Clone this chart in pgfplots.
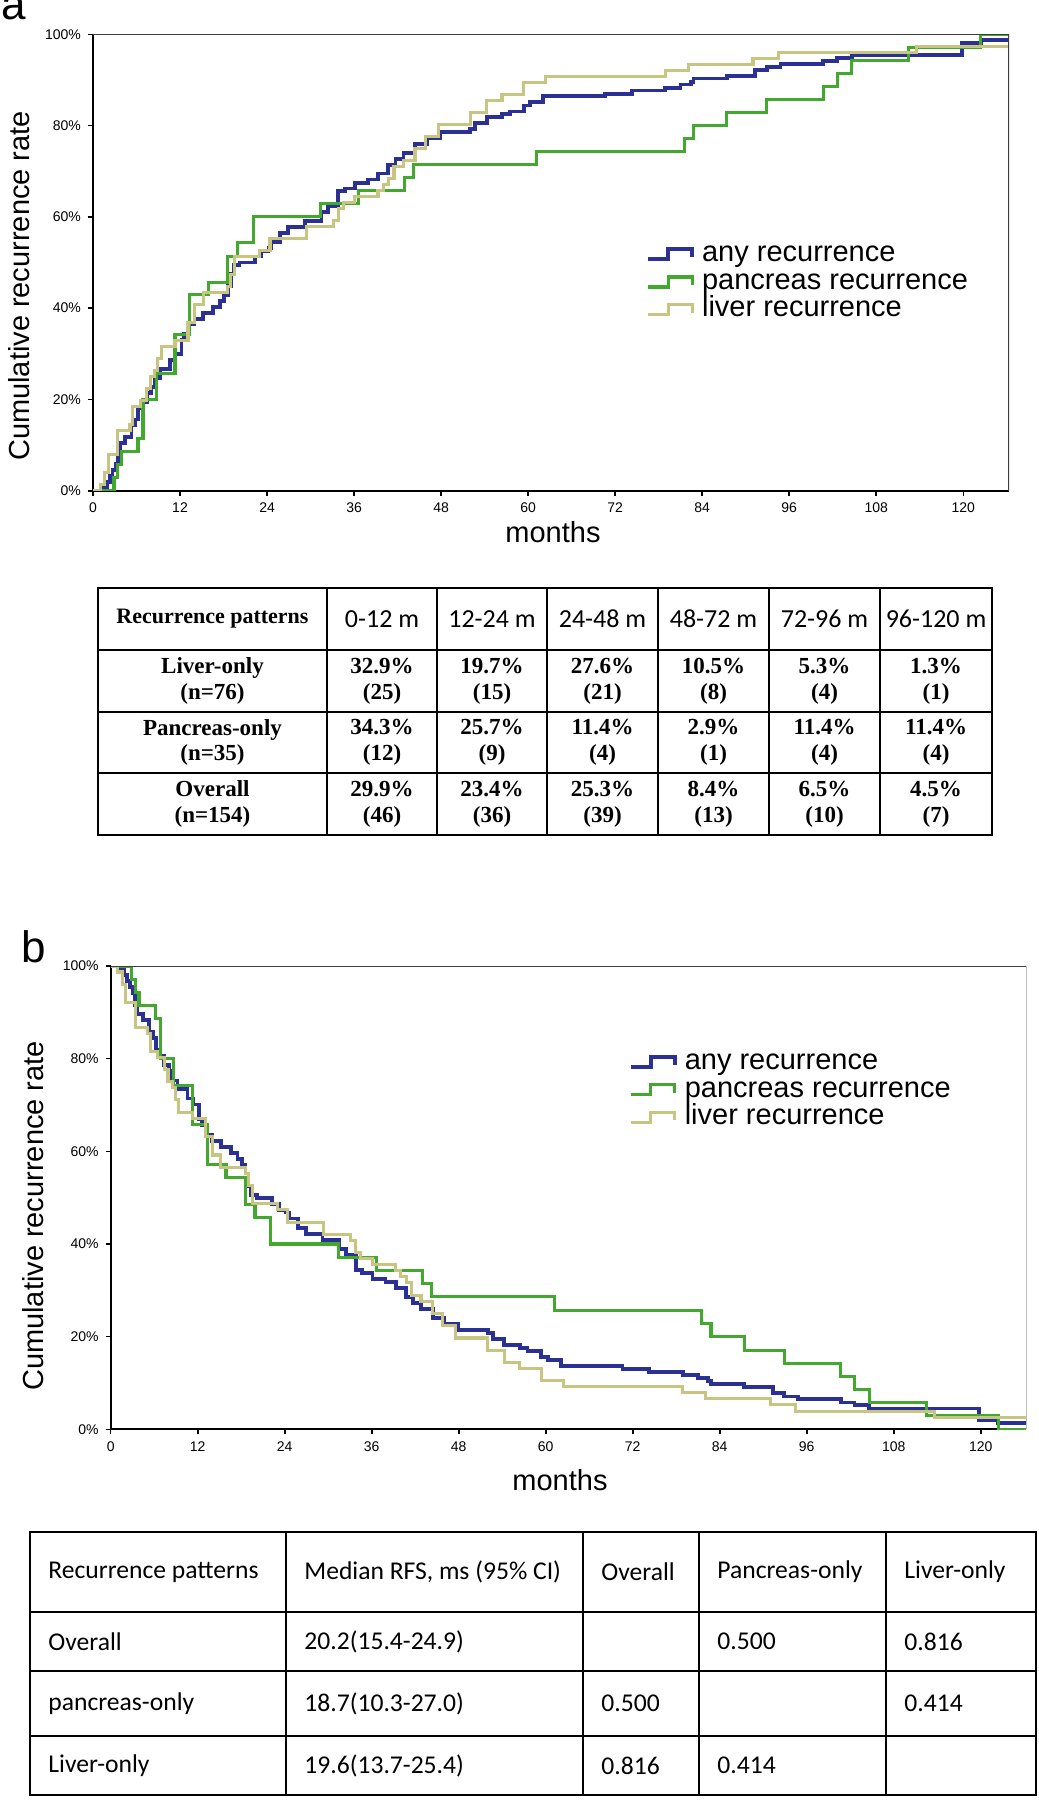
\documentclass[border=0pt]{standalone}
\usepackage{fontspec}
\setmainfont{Liberation Sans}
\newfontfamily\timesf{Liberation Serif}
\newfontfamily\calf{Carlito}
\usepackage{pgfplots}
\pgfplotsset{compat=1.18}
\definecolor{kmblue}{RGB}{42,48,148}
\definecolor{kmgreen}{RGB}{66,168,46}
\definecolor{kmtan}{RGB}{200,196,130}
\pgfplotsset{
  kmaxis/.style={
    scale only axis, anchor=south west,
    xmin=0, xmax=126.3, ymin=0, ymax=100,
    axis x line=bottom, axis y line=left,
    axis line style={-, black, line width=1pt},
    xtick={0,12,...,120}, ytick={0,20,...,100},
    xticklabels={0,12,24,36,48,60,72,84,96,108,120},
    yticklabels={0\%,20\%,40\%,60\%,80\%,100\%},
    tick align=outside, major tick length=2.5pt,
    tick style={black, line width=0.8pt},
    tick label style={font=\fontsize{7}{8}\selectfont},
    legend cell align=left,
    legend image code/.code={\draw[##1, line join=miter] (0pt,-2.5pt) -- (10pt,-2.5pt) -- (10pt,2.5pt) -- (22pt,2.5pt) -- (22pt,-1.5pt);},
    legend style={draw=none, fill=none, inner sep=0pt, outer sep=0pt,
      font=\fontsize{14.5}{14.5}\selectfont, row sep=0pt, column sep=4pt,
      nodes={inner sep=0pt, text height=10.6pt, text depth=3.2pt}},
  },
  blueS/.style={kmblue, line width=1.9pt, const plot},
  greenS/.style={kmgreen, line width=1.55pt, const plot},
  tanS/.style={kmtan, line width=1.55pt, const plot},
}
\begin{document}
\begin{tikzpicture}
\useasboundingbox (0pt,0pt) rectangle (519.5pt,-900pt);
% ---------------- panel a ----------------
\begin{axis}[kmaxis, at={(46.5pt,-245.35pt)}, width=458pt, height=228.2pt,
  legend style={at={(0.604,0.548)}, anchor=north west}]
\addplot[blueS] coordinates {(0,0) (1.4,0.6) (1.9,1.9) (2.3,3.2) (2.7,4.5) (3.1,5.8) (3.4,8.4) (3.7,10.4) (4.4,11.7) (5.3,14.3) (5.8,15.6) (6.2,18.2) (6.8,19.5) (7.4,21.4) (8.0,22.7) (8.5,24.7) (9.2,26.6) (10.6,28.6) (11.3,29.9) (12.2,33.1) (12.6,34.4) (13.1,36.4) (14.0,37.7) (15.2,39.0) (16.6,40.3) (17.5,41.6) (18.1,42.9) (18.6,44.8) (19.0,47.4) (19.4,49.4) (20.2,50.0) (22.3,51.3) (23.2,52.6) (24.2,53.2) (24.6,54.5) (25.8,56.5) (26.9,57.8) (29.2,59.1) (31.5,61.0) (32.4,62.3) (33.8,65.6) (34.7,66.2) (36.1,67.5) (37.9,68.2) (39.3,69.5) (40.7,71.4) (41.7,72.7) (42.8,74.0) (44.4,76.0) (46.0,77.3) (47.9,78.6) (52.0,79.2) (52.7,80.5) (54.3,81.8) (56.4,82.5) (57.5,83.1) (59.4,84.4) (60.3,85.1) (62.1,86.4) (70.6,87.0) (74.3,87.7) (78.9,88.3) (81.0,89.0) (82.4,89.6) (82.8,90.3) (87.4,90.9) (91.3,92.2) (92.9,92.9) (94.8,93.5) (100.7,94.2) (102.6,94.8) (104.6,95.5) (119.8,98.1) (122.4,98.7) (126.3,98.7)};
\addlegendentry{any recurrence}
\addplot[greenS] coordinates {(0,0) (2.9,2.9) (3.4,5.7) (3.9,8.6) (6.2,11.4) (6.9,20.0) (8.7,25.7) (11.3,34.3) (13.3,42.9) (15.9,45.7) (18.6,51.4) (19.9,54.3) (22.1,60.0) (31.4,62.9) (36.6,65.7) (43.0,68.6) (44.2,71.4) (61.2,74.3) (81.5,77.1) (82.8,80.0) (87.4,82.9) (92.9,85.7) (100.7,88.6) (102.6,91.4) (104.6,94.3) (112.5,97.1) (122.4,100) (126.3,100)};
\addlegendentry{pancreas recurrence}
\addplot[tanS] coordinates {(0,0) (1.0,1.3) (1.6,3.9) (2.1,7.9) (3.4,13.2) (5.1,14.5) (5.5,18.4) (6.5,19.7) (7.4,22.4) (7.9,25.0) (8.5,26.3) (8.9,28.9) (9.4,31.6) (11.3,32.9) (13.1,36.8) (14.0,40.8) (15.2,43.4) (18.6,44.7) (19.0,47.4) (19.5,51.3) (23.0,52.6) (24.4,55.3) (29.4,57.9) (33.1,59.2) (33.8,61.8) (34.5,63.2) (36.1,64.5) (39.3,65.8) (40.0,67.1) (40.8,68.4) (41.5,71.1) (42.8,72.4) (44.4,75.0) (45.8,77.6) (47.6,80.3) (52.0,82.9) (54.3,85.5) (56.4,86.8) (59.4,89.5) (62.4,90.8) (78.9,92.1) (82.1,93.4) (91.0,94.7) (94.5,96.1) (113.6,97.4) (126.3,97.4)};
\addlegendentry{liver recurrence}
\draw[black!75, line width=0.8pt] (rel axis cs:0,1) -- (rel axis cs:1,1) -- (rel axis cs:1,0);
\end{axis}
% ---------------- panel b ----------------
\begin{axis}[kmaxis, at={(55.35pt,-714.65pt)}, width=457.85pt, height=231.65pt,
  legend style={at={(0.566,0.822)}, anchor=north west}]
\addplot[blueS] coordinates {(0,100) (1.4,99.4) (1.9,98.1) (2.3,96.8) (2.7,95.5) (3.1,94.2) (3.4,91.6) (3.7,89.6) (4.4,88.3) (5.3,85.7) (5.8,84.4) (6.2,81.8) (6.8,80.5) (7.4,78.6) (8.0,77.3) (8.5,75.3) (9.2,73.4) (10.6,71.4) (11.3,70.1) (12.2,66.9) (12.6,65.6) (13.1,63.6) (14.0,62.3) (15.2,61.0) (16.6,59.7) (17.5,58.4) (18.1,57.1) (18.6,55.2) (19.0,52.6) (19.4,50.6) (20.2,50.0) (22.3,48.7) (23.2,47.4) (24.2,46.8) (24.6,45.5) (25.8,43.5) (26.9,42.2) (29.2,40.9) (31.5,39.0) (32.4,37.7) (33.8,34.4) (34.7,33.8) (36.1,32.5) (37.9,31.8) (39.3,30.5) (40.7,28.6) (41.7,27.3) (42.8,26.0) (44.4,24.0) (46.0,22.7) (47.9,21.4) (52.0,20.8) (52.7,19.5) (54.3,18.2) (56.4,17.5) (57.5,16.9) (59.4,15.6) (60.3,14.9) (62.1,13.6) (70.6,13.0) (74.3,12.3) (78.9,11.7) (81.0,11.0) (82.4,10.4) (82.8,9.7) (87.4,9.1) (91.3,7.8) (92.9,7.1) (94.8,6.5) (100.7,5.8) (102.6,5.2) (104.6,4.5) (119.8,1.9) (122.4,1.3) (126.3,1.3)};
\addlegendentry{any recurrence}
\addplot[greenS] coordinates {(0,100) (2.9,97.1) (3.4,94.3) (3.9,91.4) (6.2,88.6) (6.9,80.0) (8.7,74.3) (11.3,65.7) (13.3,57.1) (15.9,54.3) (18.6,48.6) (19.9,45.7) (22.1,40.0) (31.4,37.1) (36.6,34.3) (43.0,31.4) (44.2,28.6) (61.2,25.7) (81.5,22.9) (82.8,20.0) (87.4,17.1) (92.9,14.3) (100.7,11.4) (102.6,8.6) (104.6,5.7) (112.5,2.9) (122.4,0) (126.3,0)};
\addlegendentry{pancreas recurrence}
\addplot[tanS] coordinates {(0,100) (1.0,98.7) (1.6,96.1) (2.1,92.1) (3.4,86.8) (5.1,85.5) (5.5,81.6) (6.5,80.3) (7.4,77.6) (7.9,75.0) (8.5,73.7) (8.9,71.1) (9.4,68.4) (11.3,67.1) (13.1,63.2) (14.0,59.2) (15.2,56.6) (18.6,55.3) (19.0,52.6) (19.5,48.7) (23.0,47.4) (24.4,44.7) (29.4,42.1) (33.1,40.8) (33.8,38.2) (34.5,36.8) (36.1,35.5) (39.3,34.2) (40.0,32.9) (40.8,31.6) (41.5,28.9) (42.8,27.6) (44.4,25.0) (45.8,22.4) (47.6,19.7) (52.0,17.1) (54.3,14.5) (56.4,13.2) (59.4,10.5) (62.4,9.2) (78.9,7.9) (82.1,6.6) (91.0,5.3) (94.5,3.9) (113.6,2.6) (126.3,2.6)};
\addlegendentry{liver recurrence}
\draw[black!75, line width=0.8pt] (rel axis cs:0,1) -- (rel axis cs:1,1) -- (rel axis cs:1,0);
\end{axis}
% ---------------- labels and tables (px units) ----------------
\begin{scope}[x=0.5pt, y=-0.5pt]
\node[anchor=base west, inner sep=0pt, font=\fontsize{22}{22}\selectfont] at (1,19) {a};
\node[anchor=base west, inner sep=0pt, font=\fontsize{22}{22}\selectfont] at (21,962) {b};
\node[rotate=90, inner sep=0pt, font=\fontsize{14.5}{15}\selectfont] at (19,286) {Cumulative recurrence rate};
\node[rotate=90, inner sep=0pt, font=\fontsize{14.5}{15}\selectfont] at (33,1216) {Cumulative recurrence rate};
\node[inner sep=0pt, font=\fontsize{14.5}{15}\selectfont] at (553,532) {months};
\node[inner sep=0pt, font=\fontsize{14.5}{15}\selectfont] at (560,1480) {months};
% table 1
\draw[line width=0.9pt] (98,588) rectangle (992,835);
\foreach \x in {327,437,547,658,769,880} \draw[line width=0.8pt] (\x,588) -- (\x,835);
\foreach \y in {650,712,773} \draw[line width=0.8pt] (98,\y) -- (992,\y);
\node[font=\timesf\bfseries\fontsize{11}{12}\selectfont] at (212.5,619) {Recurrence patterns};
\foreach \t/\c in {0-12 m/382,12-24 m/492,24-48 m/602.5,48-72 m/713.5,72-96 m/824.5,96-120 m/936}
  \node[font=\calf\fontsize{13}{15}\selectfont] at (\c,619) {\t};
\tikzset{tc/.style={align=center, inner sep=0pt, font=\timesf\bfseries\fontsize{11.5}{12.8}\selectfont}}
\node[tc] at (212.5,681) {Liver-only\\(n=76)};
\node[tc] at (212.5,742.5) {Pancreas-only\\(n=35)};
\node[tc] at (212.5,804) {Overall\\(n=154)};
\foreach \a/\b/\c in {32.9/25/382,19.7/15/492,27.6/21/602.5,10.5/8/713.5,5.3/4/824.5,1.3/1/936}
  \node[tc] at (\c,681) {\a\%\\(\b)};
\foreach \a/\b/\c in {34.3/12/382,25.7/9/492,11.4/4/602.5,2.9/1/713.5,11.4/4/824.5,11.4/4/936}
  \node[tc] at (\c,742.5) {\a\%\\(\b)};
\foreach \a/\b/\c in {29.9/46/382,23.4/36/492,25.3/39/602.5,8.4/13/713.5,6.5/10/824.5,4.5/7/936}
  \node[tc] at (\c,804) {\a\%\\(\b)};
% table 2
\draw[line width=1pt] (30,1532) rectangle (1036,1795);
\foreach \x in {286,583,699,886} \draw[line width=1pt] (\x,1532) -- (\x,1795);
\foreach \y in {1612,1671,1736} \draw[line width=1pt] (30,\y) -- (1036,\y);
\tikzset{tt/.style={anchor=west, inner sep=0pt, font=\calf\fontsize{12.8}{15}\selectfont}}
\node[tt] at (48,1572) {Recurrence patterns};
\node[tt] at (304,1572) {Median RFS, ms (95\% CI)};
\node[tt] at (601,1572) {Overall};
\node[tt] at (717,1572) {Pancreas-only};
\node[tt] at (904,1572) {Liver-only};
\node[tt] at (48,1641.5) {Overall};
\node[tt] at (304,1641.5) {20.2(15.4-24.9)};
\node[tt] at (717,1641.5) {0.500};
\node[tt] at (904,1641.5) {0.816};
\node[tt] at (48,1703.5) {pancreas-only};
\node[tt] at (304,1703.5) {18.7(10.3-27.0)};
\node[tt] at (601,1703.5) {0.500};
\node[tt] at (904,1703.5) {0.414};
\node[tt] at (48,1765.5) {Liver-only};
\node[tt] at (304,1765.5) {19.6(13.7-25.4)};
\node[tt] at (601,1765.5) {0.816};
\node[tt] at (717,1765.5) {0.414};
\end{scope}
\end{tikzpicture}
\end{document}
